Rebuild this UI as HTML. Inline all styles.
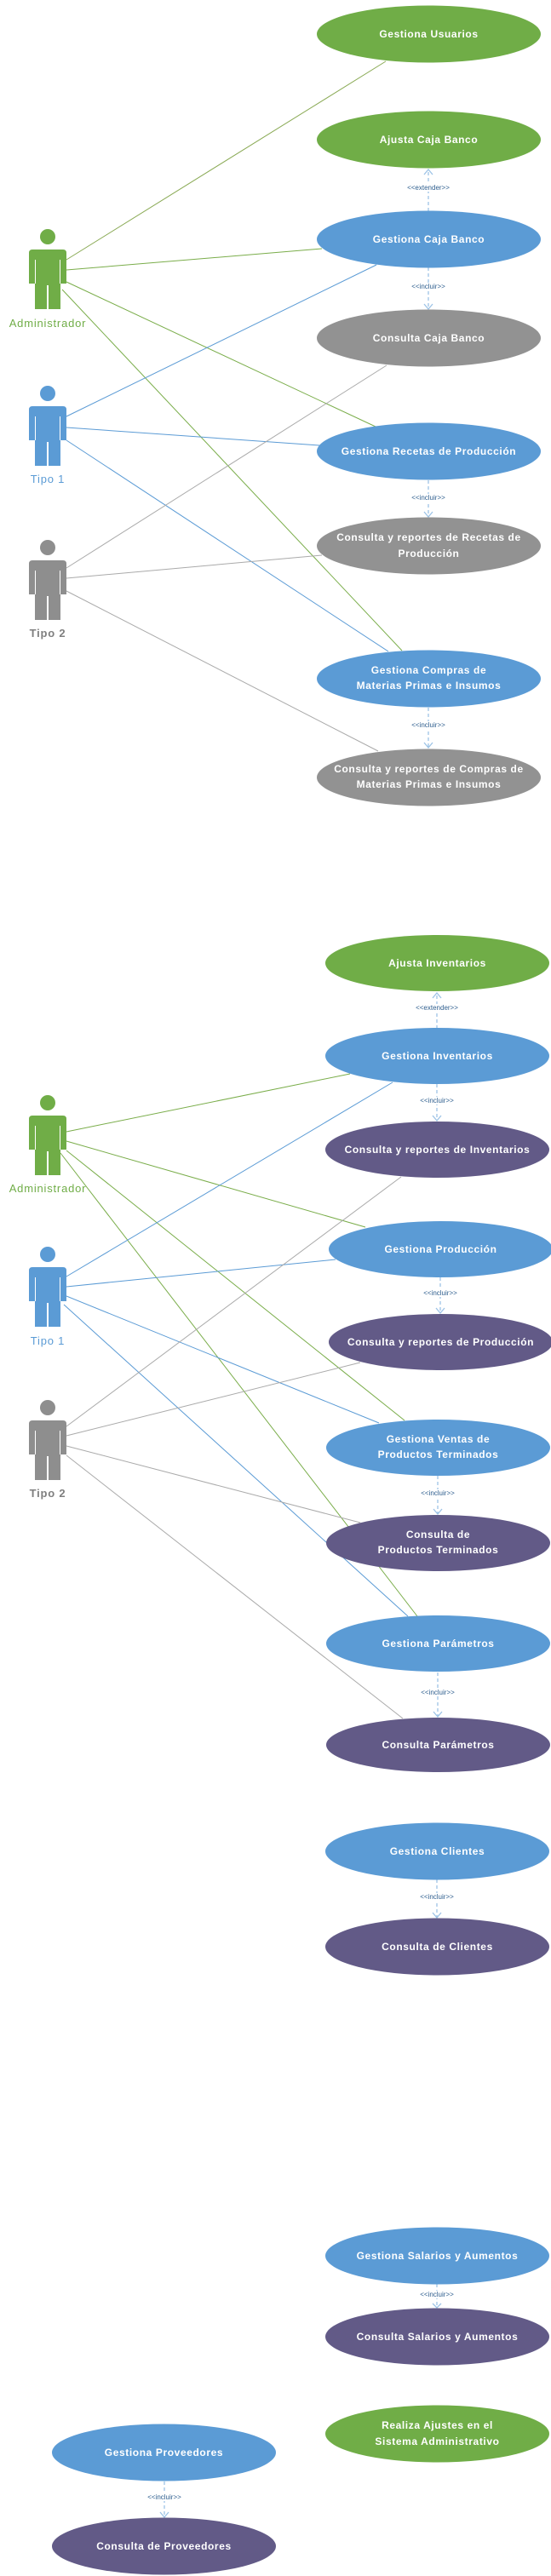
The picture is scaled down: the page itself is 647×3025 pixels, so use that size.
<!DOCTYPE html>
<html><head><meta charset="utf-8"><style>
html,body{margin:0;padding:0;background:#fff;}
svg{display:block;}
.u{font-family:"Liberation Sans",sans-serif;font-weight:bold;font-size:12px;fill:#fff;text-anchor:middle;letter-spacing:0.6px;}
.s{font-family:"Liberation Sans",sans-serif;font-size:8px;fill:#2e5e8e;text-anchor:middle;}
.a{font-family:"Liberation Sans",sans-serif;font-size:13px;text-anchor:middle;letter-spacing:0.8px;}
.dl{stroke:#9dc3e6;stroke-width:1.3;stroke-dasharray:4,3;fill:none;}
.ah{stroke:#9dc3e6;stroke-width:1.3;fill:none;}
</style></head><body>
<svg width="647" height="3025" viewBox="0 0 647 3025" xmlns="http://www.w3.org/2000/svg">
<defs>
<g id="actor">
<circle cx="0" cy="-15" r="9"/>
<path d="M-22,4 Q-22,0 -18,0 L18,0 Q22,0 22,4 L22,40 L15,40 L15,70 L1,70 L1,42 L-1,42 L-1,70 L-15,70 L-15,40 L-22,40 Z"/>
<line x1="-14.5" y1="12" x2="-14.5" y2="40" stroke="#fff" stroke-width="1"/>
<line x1="14.5" y1="12" x2="14.5" y2="40" stroke="#fff" stroke-width="1"/>
</g>
</defs>

<!-- lines section 1 -->
<g stroke-width="1" fill="none">
<line x1="78" y1="305" x2="453" y2="72" stroke="#8aaa55"/>
<line x1="78" y1="317" x2="378" y2="292" stroke="#7aad4a"/>
<line x1="78" y1="331" x2="441" y2="501" stroke="#7aad4a"/>
<line x1="73" y1="340" x2="472" y2="764" stroke="#7aad4a"/>
<line x1="78" y1="489" x2="442" y2="311" stroke="#5b9bd5"/>
<line x1="78" y1="502" x2="375" y2="523" stroke="#5b9bd5"/>
<line x1="78" y1="517" x2="456" y2="765" stroke="#5b9bd5"/>
<line x1="78" y1="667" x2="454" y2="429" stroke="#aaaaaa"/>
<line x1="78" y1="679" x2="378" y2="652" stroke="#aaaaaa"/>
<line x1="78" y1="694" x2="444" y2="882" stroke="#aaaaaa"/>
</g>
<!-- lines section 2 -->
<g stroke-width="1" fill="none">
<line x1="78" y1="1329" x2="411" y2="1261" stroke="#7aad4a"/>
<line x1="78" y1="1340" x2="429" y2="1441" stroke="#7aad4a"/>
<line x1="78" y1="1351" x2="475" y2="1668" stroke="#7aad4a"/>
<line x1="71" y1="1354" x2="490" y2="1898" stroke="#7aad4a"/>
<line x1="78" y1="1499" x2="461" y2="1271" stroke="#5b9bd5"/>
<line x1="78" y1="1511" x2="394" y2="1479" stroke="#5b9bd5"/>
<line x1="78" y1="1522" x2="445" y2="1671" stroke="#5b9bd5"/>
<line x1="75" y1="1532" x2="479" y2="1898" stroke="#5b9bd5"/>
<line x1="78" y1="1675" x2="471" y2="1382" stroke="#aaaaaa"/>
<line x1="78" y1="1686" x2="423" y2="1600" stroke="#aaaaaa"/>
<line x1="78" y1="1698" x2="423" y2="1788" stroke="#aaaaaa"/>
<line x1="78" y1="1709" x2="473" y2="2018" stroke="#aaaaaa"/>
</g>

<!-- actors -->
<g fill="#70ad47"><use href="#actor" x="56" y="293"/></g>
<text class="a" x="56" y="384" fill="#70ad47">Administrador</text>
<g fill="#5b9bd5"><use href="#actor" x="56" y="477"/></g>
<text class="a" x="56" y="567" fill="#5b9bd5">Tipo 1</text>
<g fill="#8e8e8e"><use href="#actor" x="56" y="658"/></g>
<text class="a" x="56" y="748" fill="#7f7f7f" font-weight="bold">Tipo 2</text>

<g fill="#70ad47"><use href="#actor" x="56" y="1310"/></g>
<text class="a" x="56" y="1400" fill="#70ad47">Administrador</text>
<g fill="#5b9bd5"><use href="#actor" x="56" y="1488"/></g>
<text class="a" x="56" y="1579" fill="#5b9bd5">Tipo 1</text>
<g fill="#8e8e8e"><use href="#actor" x="56" y="1668"/></g>
<text class="a" x="56" y="1758" fill="#7f7f7f" font-weight="bold">Tipo 2</text>

<!-- dashed connectors -->
<g>
<line class="dl" x1="503" y1="248" x2="503" y2="199"/><path class="ah" d="M498,205 L503,199 L508,205"/>
<line class="dl" x1="503" y1="314" x2="503" y2="363"/><path class="ah" d="M498,357 L503,363 L508,357"/>
<line class="dl" x1="503" y1="564" x2="503" y2="607"/><path class="ah" d="M498,601 L503,607 L508,601"/>
<line class="dl" x1="503" y1="831" x2="503" y2="878"/><path class="ah" d="M498,872 L503,878 L508,872"/>
<line class="dl" x1="513" y1="1208" x2="513" y2="1166"/><path class="ah" d="M508,1172 L513,1166 L518,1172"/>
<line class="dl" x1="513" y1="1273" x2="513" y2="1316"/><path class="ah" d="M508,1310 L513,1316 L518,1310"/>
<line class="dl" x1="517" y1="1500" x2="517" y2="1542"/><path class="ah" d="M512,1536 L517,1542 L522,1536"/>
<line class="dl" x1="514" y1="1733" x2="514" y2="1778"/><path class="ah" d="M509,1772 L514,1778 L519,1772"/>
<line class="dl" x1="514" y1="1964" x2="514" y2="2016"/><path class="ah" d="M509,2010 L514,2016 L519,2010"/>
<line class="dl" x1="513" y1="2207" x2="513" y2="2252"/><path class="ah" d="M508,2246 L513,2252 L518,2246"/>
<line class="dl" x1="513" y1="2682" x2="513" y2="2710"/><path class="ah" d="M508,2705 L513,2710 L518,2705"/>
<line class="dl" x1="193" y1="2914" x2="193" y2="2956"/><path class="ah" d="M188,2950 L193,2956 L198,2950"/>
</g>
<g>
<rect x="470" y="216" width="66" height="9" fill="#fff"/><text class="s" x="503" y="223">&lt;&lt;extender&gt;&gt;</text>
<rect x="478" y="332" width="50" height="9" fill="#fff"/><text class="s" x="503" y="339">&lt;&lt;incluir&gt;&gt;</text>
<rect x="478" y="580" width="50" height="9" fill="#fff"/><text class="s" x="503" y="587">&lt;&lt;incluir&gt;&gt;</text>
<rect x="478" y="847" width="50" height="9" fill="#fff"/><text class="s" x="503" y="854">&lt;&lt;incluir&gt;&gt;</text>
<rect x="480" y="1179" width="66" height="9" fill="#fff"/><text class="s" x="513" y="1186">&lt;&lt;extender&gt;&gt;</text>
<rect x="488" y="1288" width="50" height="9" fill="#fff"/><text class="s" x="513" y="1295">&lt;&lt;incluir&gt;&gt;</text>
<rect x="492" y="1514" width="50" height="9" fill="#fff"/><text class="s" x="517" y="1521">&lt;&lt;incluir&gt;&gt;</text>
<rect x="489" y="1749" width="50" height="9" fill="#fff"/><text class="s" x="514" y="1756">&lt;&lt;incluir&gt;&gt;</text>
<rect x="489" y="1983" width="50" height="9" fill="#fff"/><text class="s" x="514" y="1990">&lt;&lt;incluir&gt;&gt;</text>
<rect x="488" y="2223" width="50" height="9" fill="#fff"/><text class="s" x="513" y="2230">&lt;&lt;incluir&gt;&gt;</text>
<rect x="488" y="2690" width="50" height="9" fill="#fff"/><text class="s" x="513" y="2697">&lt;&lt;incluir&gt;&gt;</text>
<rect x="168" y="2928" width="50" height="9" fill="#fff"/><text class="s" x="193" y="2935">&lt;&lt;incluir&gt;&gt;</text>
</g>

<!-- ellipses -->
<g>
<ellipse cx="503.5" cy="40" rx="131.5" ry="33.5" fill="#70ad47"/>
<text class="u" x="503.5" y="44">Gestiona  Usuarios</text>
<ellipse cx="503.5" cy="164" rx="131.5" ry="33.5" fill="#70ad47"/>
<text class="u" x="503.5" y="168">Ajusta Caja Banco</text>
<ellipse cx="503.5" cy="281" rx="131.5" ry="33.5" fill="#5b9bd5"/>
<text class="u" x="503.5" y="285">Gestiona Caja Banco</text>
<ellipse cx="503.5" cy="397" rx="131.5" ry="33.5" fill="#929292"/>
<text class="u" x="503.5" y="401">Consulta Caja Banco</text>
<ellipse cx="503.5" cy="530" rx="131.5" ry="33.5" fill="#5b9bd5"/>
<text class="u" x="503.5" y="534">Gestiona Recetas de Producción</text>
<ellipse cx="503.5" cy="641" rx="131.5" ry="33.5" fill="#929292"/>
<text class="u" x="503.5" y="635" letter-spacing="0.2">Consulta y reportes de Recetas de</text>
<text class="u" x="503.5" y="654">Producción</text>
<ellipse cx="503.5" cy="797" rx="131.5" ry="33.5" fill="#5b9bd5"/>
<text class="u" x="503.5" y="791">Gestiona Compras de</text>
<text class="u" x="503.5" y="809">Materias Primas e Insumos</text>
<ellipse cx="503.5" cy="913" rx="131.5" ry="33.5" fill="#929292"/>
<text class="u" x="503.5" y="907" letter-spacing="0.1">Consulta y reportes de Compras de</text>
<text class="u" x="503.5" y="925">Materias Primas e Insumos</text>

<ellipse cx="513.5" cy="1131" rx="131.5" ry="33" fill="#70ad47"/>
<text class="u" x="513.5" y="1135">Ajusta Inventarios</text>
<ellipse cx="513.5" cy="1240" rx="131.5" ry="33" fill="#5b9bd5"/>
<text class="u" x="513.5" y="1244">Gestiona Inventarios</text>
<ellipse cx="513.5" cy="1350" rx="131.5" ry="33" fill="#625a87"/>
<text class="u" x="513.5" y="1354" letter-spacing="0.3">Consulta y reportes de Inventarios</text>
<ellipse cx="517.5" cy="1467" rx="131.5" ry="33" fill="#5b9bd5"/>
<text class="u" x="517.5" y="1471">Gestiona Producción</text>
<ellipse cx="517.5" cy="1576" rx="131.5" ry="33" fill="#625a87"/>
<text class="u" x="517.5" y="1580" letter-spacing="0.3">Consulta y reportes de Producción</text>
<ellipse cx="514.5" cy="1700" rx="131.5" ry="33" fill="#5b9bd5"/>
<text class="u" x="514.5" y="1694">Gestiona Ventas de</text>
<text class="u" x="514.5" y="1712">Productos Terminados</text>
<ellipse cx="514.5" cy="1812" rx="131.5" ry="33" fill="#625a87"/>
<text class="u" x="514.5" y="1806">Consulta de</text>
<text class="u" x="514.5" y="1824">Productos Terminados</text>
<ellipse cx="514.5" cy="1930" rx="131.5" ry="33" fill="#5b9bd5"/>
<text class="u" x="514.5" y="1934">Gestiona Parámetros</text>
<ellipse cx="514.5" cy="2049" rx="131.5" ry="32" fill="#625a87"/>
<text class="u" x="514.5" y="2053">Consulta Parámetros</text>

<ellipse cx="513.5" cy="2174" rx="131.5" ry="33.5" fill="#5b9bd5"/>
<text class="u" x="513.5" y="2178">Gestiona Clientes</text>
<ellipse cx="513.5" cy="2286" rx="131.5" ry="33.5" fill="#625a87"/>
<text class="u" x="513.5" y="2290">Consulta de Clientes</text>
<ellipse cx="513.5" cy="2649" rx="131.5" ry="33.5" fill="#5b9bd5"/>
<text class="u" x="513.5" y="2653">Gestiona Salarios y Aumentos</text>
<ellipse cx="513.5" cy="2744" rx="131.5" ry="33.5" fill="#625a87"/>
<text class="u" x="513.5" y="2748">Consulta Salarios y Aumentos</text>
<ellipse cx="513.5" cy="2858" rx="131.5" ry="33.5" fill="#70ad47"/>
<text class="u" x="513.5" y="2852">Realiza Ajustes en el</text>
<text class="u" x="513.5" y="2871">Sistema Administrativo</text>
<ellipse cx="192.5" cy="2880" rx="131.5" ry="33.5" fill="#5b9bd5"/>
<text class="u" x="192.5" y="2884">Gestiona Proveedores</text>
<ellipse cx="192.5" cy="2990" rx="131.5" ry="33.5" fill="#625a87"/>
<text class="u" x="192.5" y="2994">Consulta de Proveedores</text>
</g>
</svg>
</body></html>
